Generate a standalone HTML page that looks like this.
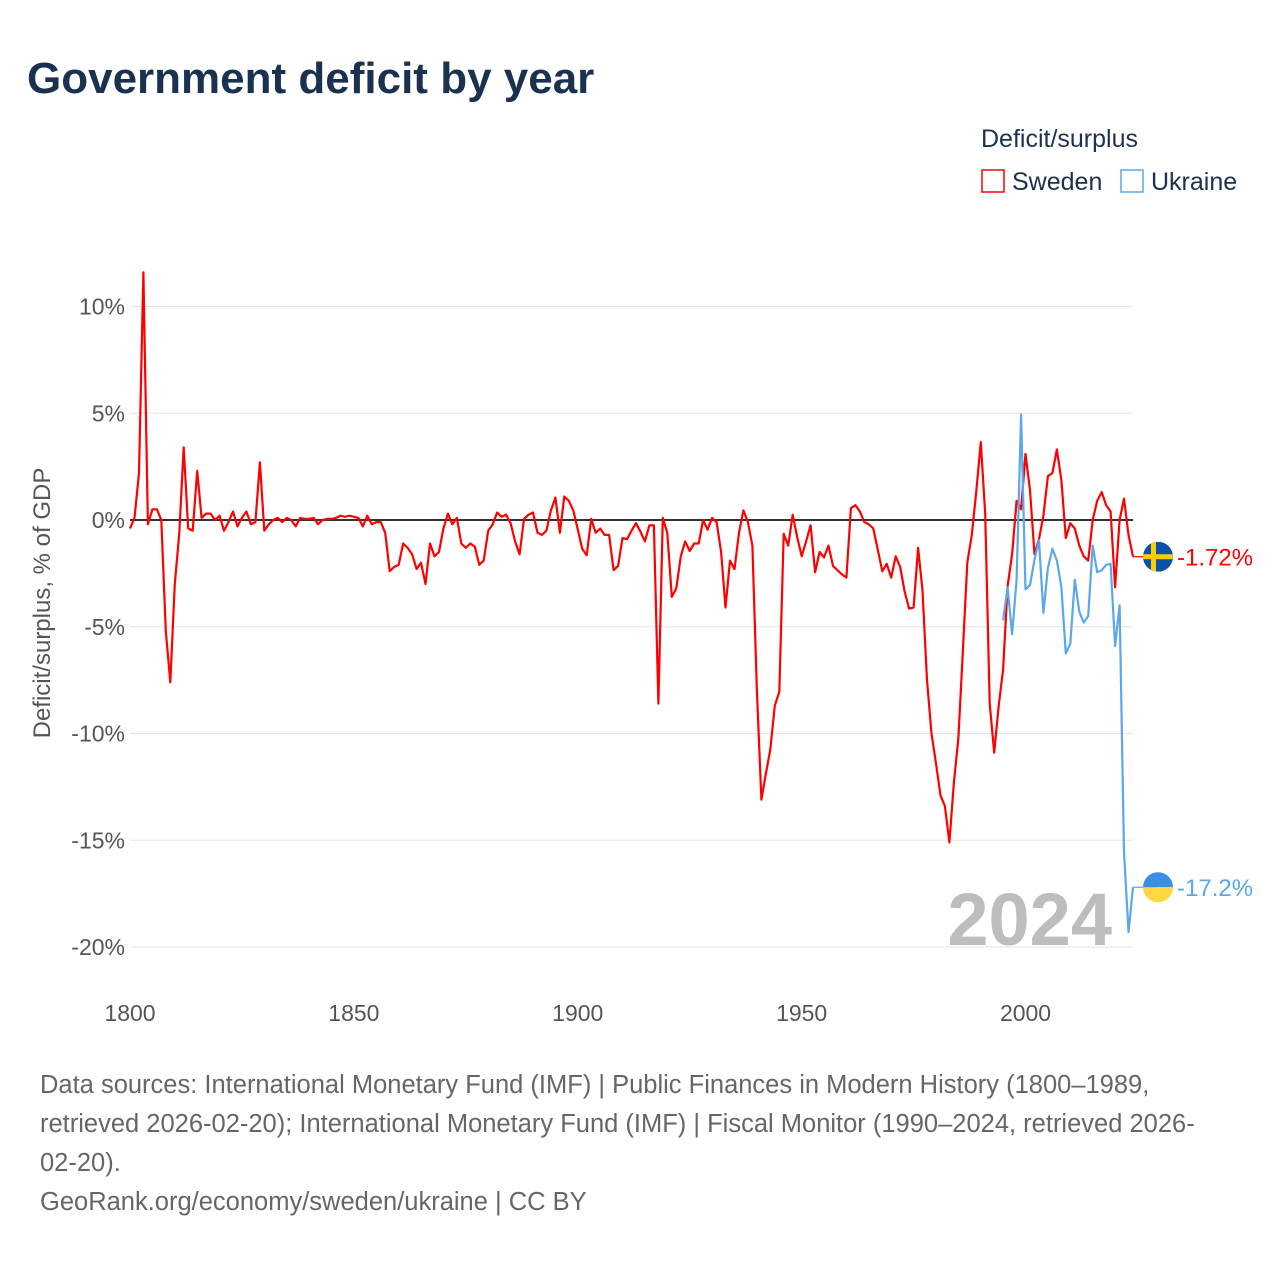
<!DOCTYPE html>
<html><head><meta charset="utf-8"><style>
body{margin:0;background:#fff;font-family:"Liberation Sans",sans-serif;}
svg text{font-family:"Liberation Sans",sans-serif;}
</style></head><body>
<svg id="chart" width="1280" height="1280" viewBox="0 0 1280 1280" xmlns="http://www.w3.org/2000/svg">
<rect width="1280" height="1280" fill="#fff"/>
<text x="27" y="93" font-size="44" font-weight="bold" fill="#1b3150">Government deficit by year</text>
<text x="981" y="147" font-size="25" fill="#1b3150">Deficit/surplus</text>
<g><rect x="982" y="170" width="22" height="22" fill="none" stroke="#ff0000" stroke-width="1.5"/><text x="1012" y="190" font-size="25" fill="#1b3150">Sweden</text></g>
<g><rect x="1121" y="170" width="22" height="22" fill="none" stroke="#5aa8ea" stroke-width="1.5"/><text x="1151" y="190" font-size="25" fill="#1b3150">Ukraine</text></g>
<text transform="translate(50,603) rotate(-90)" text-anchor="middle" font-size="24" fill="#555">Deficit/surplus, % of GDP</text>
<g id="grid"></g>
<text x="1112" y="945" text-anchor="end" font-size="74" font-weight="bold" fill="#bdbdbd">2024</text>
<g id="series"></g>
<g id="ends"></g>
<g font-size="25.5" fill="#666">
<text x="40" y="1093">Data sources: International Monetary Fund (IMF) | Public Finances in Modern History (1800–1989,</text>
<text x="40" y="1132">retrieved 2026-02-20); International Monetary Fund (IMF) | Fiscal Monitor (1990–2024, retrieved 2026-</text>
<text x="40" y="1171">02-20).</text>
<text x="40" y="1210">GeoRank.org/economy/sweden/ukraine | CC BY</text>
</g>
</svg>
<script>
const swedenStart = 1800;
const swedenValues = [-0.4,0.1,2.2,11.6,-0.2,0.5,0.5,0.0,-5.2,-7.6,-3.0,-0.6,3.4,-0.4,-0.5,2.3,0.1,0.3,0.3,0.0,
0.2,-0.5,-0.1,0.4,-0.3,0.1,0.4,-0.2,-0.1,2.7,-0.5,-0.2,0.0,0.1,-0.1,0.1,0.0,-0.3,0.1,0.05,
0.05,0.1,-0.2,0.0,0.05,0.05,0.1,0.2,0.15,0.2,0.15,0.1,-0.3,0.2,-0.2,-0.1,-0.1,-0.6,-2.4,-2.2,
-2.1,-1.1,-1.3,-1.6,-2.3,-2.0,-3.0,-1.1,-1.7,-1.5,-0.4,0.3,-0.2,0.1,-1.1,-1.3,-1.1,-1.25,-2.1,-1.9,
-0.5,-0.2,0.35,0.15,0.25,-0.15,-1.0,-1.6,0.05,0.25,0.35,-0.6,-0.7,-0.5,0.45,1.05,-0.6,1.1,0.9,0.45,
-0.45,-1.35,-1.65,0.05,-0.6,-0.4,-0.7,-0.7,-2.35,-2.15,-0.85,-0.9,-0.5,-0.15,-0.55,-1.0,-0.25,-0.25,-8.6,0.1,
-0.6,-3.6,-3.2,-1.7,-1.0,-1.45,-1.1,-1.1,0.0,-0.45,0.1,-0.1,-1.5,-4.1,-1.9,-2.3,-0.6,0.45,-0.1,-1.2,
-8.0,-13.1,-11.9,-10.75,-8.7,-8.05,-0.65,-1.2,0.25,-0.8,-1.7,-1.0,-0.25,-2.45,-1.5,-1.75,-1.2,-2.15,-2.35,-2.55,
-2.7,0.55,0.7,0.4,-0.1,-0.2,-0.4,-1.4,-2.4,-2.05,-2.7,-1.7,-2.2,-3.35,-4.15,-4.1,-1.3,-3.3,-7.5,-10.0,
-11.4,-12.9,-13.4,-15.1,-12.3,-10.2,-6.2,-2.0,-0.7,1.35,3.65,0.3,-8.6,-10.9,-8.7,-7.0,-3.1,-1.6,0.9,0.5,
3.1,1.4,-1.6,-0.9,0.2,2.05,2.2,3.3,1.85,-0.85,-0.15,-0.4,-1.2,-1.7,-1.9,0.0,0.9,1.3,0.7,0.4,
-3.15,0.0,1.0,-0.7,-1.72];
const ukraineStart = 1995;
const ukraineValues = [-4.7,-3.15,-5.35,-2.8,4.95,-3.25,-3.05,-1.85,-0.95,-4.35,-2.25,-1.35,-1.9,-3.15,-6.25,-5.8,-2.8,-4.3,-4.8,-4.5,
-1.2,-2.45,-2.35,-2.1,-2.05,-5.9,-4.0,-15.55,-19.3,-17.2];
const yTicks = [10,5,0,-5,-10,-15,-20];
const xTicks = [1800,1850,1900,1950,2000];
const endLabels = ["-1.72%","-17.2%"];

const NS="http://www.w3.org/2000/svg";
const X0=130, X1=1133, Y0=520, PX=21.35;
const xs = yr => X0 + (yr-1800)*(X1-X0)/224;
const ys = v => Y0 - v*PX;
function mk(tag, attrs, parent){const e=document.createElementNS(NS,tag);for(const k in attrs)e.setAttribute(k,attrs[k]);parent.appendChild(e);return e;}
const grid=document.getElementById('grid');
yTicks.forEach(t=>{
  const l=mk('line',{x1:X0,x2:X1,y1:ys(t),y2:ys(t),stroke:t===0?'#333':'#e6e6e6','stroke-width':t===0?2:1},grid);
  
  
  const tx=mk('text',{x:125,y:ys(t)+8,'text-anchor':'end','font-size':23,fill:'#555'},grid);
  tx.textContent=t+'%';
  
  
});
xTicks.forEach(t=>{
  const tx=mk('text',{x:xs(t),y:1021,'text-anchor':'middle','font-size':23,fill:'#555'},grid);
  tx.textContent=t;
  
  
});
const ser=document.getElementById('series');
function line(start, vals, color, name){
  const pts=vals.map((v,i)=>xs(start+i).toFixed(1)+','+ys(v).toFixed(1)).join(' ');
  const p=mk('polyline',{points:pts,fill:'none',stroke:color,'stroke-width':2.2,'stroke-linejoin':'round'},ser);
  
  
  const last=vals[vals.length-1];
  const c=mk('line',{x1:xs(start+vals.length-1),x2:1158,y1:ys(last),y2:ys(last),stroke:color,'stroke-width':1.2},ser);
  
  
}
line(swedenStart, swedenValues, '#ff0000', 'sweden-line');
line(ukraineStart, ukraineValues, '#5aa8ea', 'ukraine-line');

const ends=document.getElementById('ends');
const sy=ys(swedenValues[swedenValues.length-1]), uy=ys(ukraineValues[ukraineValues.length-1]);
const sg=mk('g',{},ends);


const cp=mk('clipPath',{id:'cs'},sg);
mk('circle',{cx:1158,cy:sy,r:15},cp);
const sgi=mk('g',{'clip-path':'url(#cs)'},sg);
mk('rect',{x:1143,y:sy-15,width:30,height:30,fill:'#0a52a8'},sgi);
mk('rect',{x:1143,y:sy-2.5,width:30,height:5,fill:'#fecc02'},sgi);
mk('rect',{x:1151,y:sy-15,width:5,height:30,fill:'#fecc02'},sgi);
const sl=mk('text',{x:1177,y:sy+9,'font-size':24,fill:'#ff0000'},ends);
sl.textContent=endLabels[0];


const ug=mk('g',{},ends);


mk('path',{d:`M1143,${uy} A15,15 0 0 1 1173,${uy} Z`,fill:'#3a8ee6'},ug);
mk('path',{d:`M1143,${uy} A15,15 0 0 0 1173,${uy} Z`,fill:'#ffd740'},ug);
const ul=mk('text',{x:1177,y:uy+9,'font-size':24,fill:'#5aa8ea'},ends);
ul.textContent=endLabels[1];


</script>
</body></html>
